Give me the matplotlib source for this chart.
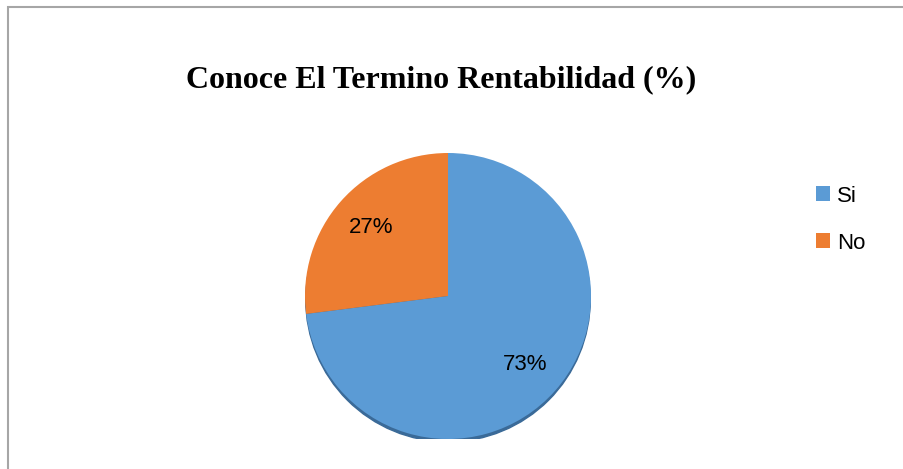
import matplotlib.pyplot as plt
import matplotlib.patches as pat

# data
labels = ['Si', 'No']
values = [73, 27]
colors = ['#5B9BD5', '#ED7D31']
title = 'Conoce El Termino Rentabilidad (%)'

# fig config (pixels -> figure fraction)
W, H = 904, 469
dpi = 100
cx, cy, rad = 448, 296, 143

fig = plt.figure(figsize=(W / dpi, H / dpi), dpi=dpi)
fig.patch.set_facecolor('white')

# chart frame (cut off at right/bottom like the reference)
frame = pat.Rectangle((8 / W, -0.05), 1.0, 1 - 7.5 / H + 0.05, transform=fig.transFigure,
                      fill=False, edgecolor='#A6A6A6', lw=1.5)
fig.patches.append(frame)

fig.text(441 / W, 1 - 80 / H, title, ha='center', va='center',
         fontsize=23, fontweight='bold', family='Liberation Serif')

ax = fig.add_axes([(cx - rad) / W, (H - cy - rad) / H, 2 * rad / W, 2 * rad / H])
# soft shadow under the pie
ax.add_patch(pat.Circle((0.0, -0.025), 0.995, color='#3A6A98', zorder=0))
wedges, texts, autotexts = ax.pie(values, colors=colors, startangle=90, counterclock=False,
                                  autopct='%d%%', pctdistance=0.72, radius=1.0,
                                  wedgeprops=dict(linewidth=0, zorder=1),
                                  textprops=dict(fontsize=16, family='Liberation Sans', color='black'))
ax.set_xlim(-1, 1)
ax.set_ylim(-1, 1)
ax.set_aspect('equal')
ax.axis('off')

handles = [pat.Patch(facecolor=c, edgecolor='none') for c in colors]
fig.legend(handles, labels, loc='center left', bbox_to_anchor=(796 / W, 1 - 219.5 / H),
           frameon=False, prop=dict(family='Liberation Sans', size=16), handlelength=0.65,
           handleheight=0.65, handletextpad=0.3, labelspacing=1.17)

plt.savefig('out.png', dpi=dpi)
